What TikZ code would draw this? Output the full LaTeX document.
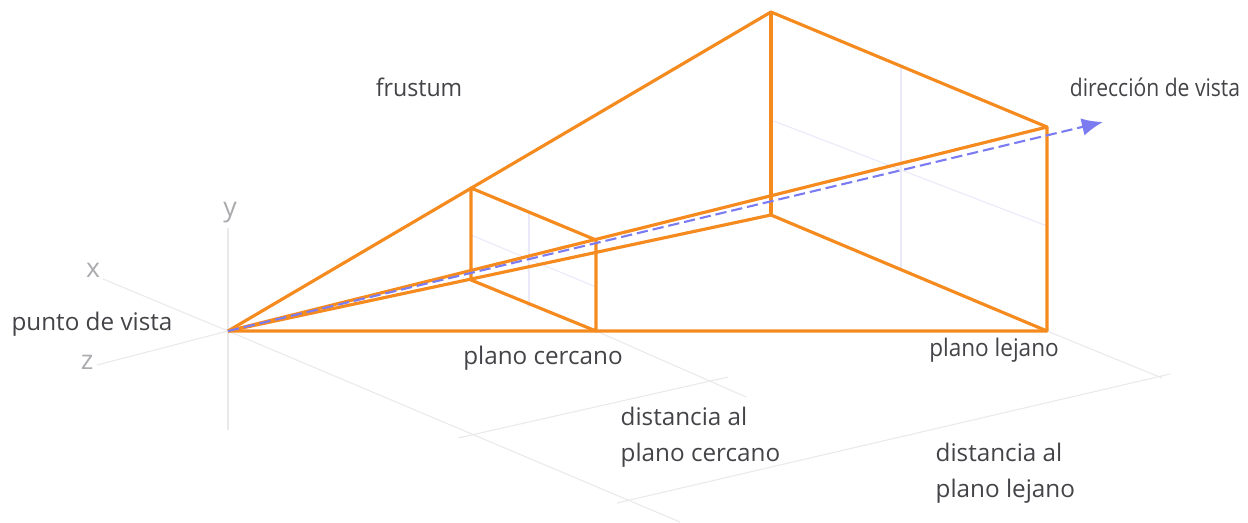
\documentclass[tikz,border=0pt]{standalone}
\usepackage{fontspec}
\setmainfont{Open Sans}
\usetikzlibrary{arrows.meta,calc,positioning}
\definecolor{frustumorange}{HTML}{F58A1F}
\definecolor{viewblue}{HTML}{7C7CF2}
\definecolor{guidegray}{HTML}{E9E9EC}
\definecolor{gridblue}{HTML}{E9E9F9}
\definecolor{axislabel}{HTML}{ABABAF}
\definecolor{labeltext}{HTML}{444448}
\tikzset{
  edge/.style={draw=frustumorange, line width=0.9pt, line join=round},
  guide/.style={draw=guidegray, line width=0.3pt},
  grid line/.style={draw=gridblue, line width=0.3pt},
  lbl/.style={font=\fontsize{6.9}{10.4}\selectfont, text=labeltext, inner sep=0pt, align=left},
  axlbl/.style={font=\fontsize{7.6}{8}\selectfont, text=axislabel, inner sep=0pt}
}
\begin{document}
\begin{tikzpicture}
                \useasboundingbox (0,0) rectangle (12.48,5.22);
                % view point and axes
                \coordinate (eye) at (2.28,1.91);
                \coordinate (xend) at (1.03,2.43);
                \coordinate (zend) at (0.97,1.57);
                \coordinate (ytop) at (2.28,2.94);
                \coordinate (ybot) at (2.28,0.92);
                % near plane
                \coordinate (nearTL) at (4.71,3.34);
                \coordinate (nearBL) at (4.71,2.42);
                \coordinate (nearTR) at (5.96,2.82);
                \coordinate (nearBR) at (5.96,1.91);
                % far plane
                \coordinate (farTL) at (7.71,5.10);
                \coordinate (farBL) at (7.71,3.07);
                \coordinate (farTR) at (10.47,3.95);
                \coordinate (farBR) at (10.47,1.91);
                % distance guides
                \coordinate (guideEnd) at (6.80,0);
                \coordinate (nearEnd) at (7.46,1.25);
                \coordinate (farEnd) at (11.62,1.44);
                \draw[guide] (eye) -- (xend);
                \draw[guide] (eye) -- (zend);
                \draw[guide] (ytop) -- (ybot);
                \draw[guide] (eye) -- (guideEnd);
                \draw[guide] (nearBR) -- (nearEnd);
                \draw[guide] (farBR) -- (farEnd);
                \draw[guide] (4.58,0.84) -- (7.28,1.45);
                \draw[guide] (6.17,0.19) -- (11.70,1.48);
                % plane centre lines
                \draw[grid line] (5.29,3.09) -- (5.29,2.15);
                \draw[grid line] (4.71,2.87) -- (5.96,2.35);
                \draw[grid line] (9.01,4.54) -- (9.01,2.52);
                \draw[grid line] (7.71,4.02) -- (10.47,2.96);
                % frustum
                \draw[edge] (eye) -- (farTL) -- (farTR) -- (farBR) -- (eye);
                \draw[edge] (eye) -- (farTR);
                \draw[edge] (eye) -- (farBL) -- (farBR);
                \draw[edge] (farTL) -- (farBL);
                \draw[edge] (nearTL) -- (nearTR) -- (nearBR) -- (nearBL) -- cycle;
                % view direction
                \coordinate (viewEnd) at (11.03,4.00);
                \draw[viewblue, line width=0.6pt, dash pattern=on 3.2pt off 1.4pt, -{Latex[length=6pt,width=5pt]}] (eye) -- (viewEnd);
                % labels
                \node[axlbl] (ylabel) at (2.30,3.09) {y};
                \node[axlbl] (xlabel) at (0.93,2.52) {x};
                \node[axlbl] (zlabel) at (0.87,1.60) {z};
                \node[lbl, xscale=0.955] (frustum) at (4.19,4.35) {frustum};
                \node[lbl, xscale=0.87] (direction) at (11.55,4.35) {dirección de vista};
                \node[lbl] (viewpoint) at (0.92,1.98) {punto de vista};
                \node[lbl] (nearplane) at (5.43,1.64) {plano cercano};
                \node[lbl, xscale=0.93] (farplane) at (9.94,1.72) {plano lejano};
                \node[lbl, anchor=west] (neardist) at (6.20,0.85) {distancia al\\plano cercano};
                \node[lbl, anchor=west] (fardist) at (9.35,0.49) {distancia al\\plano lejano};
              \end{tikzpicture}
\end{document}
